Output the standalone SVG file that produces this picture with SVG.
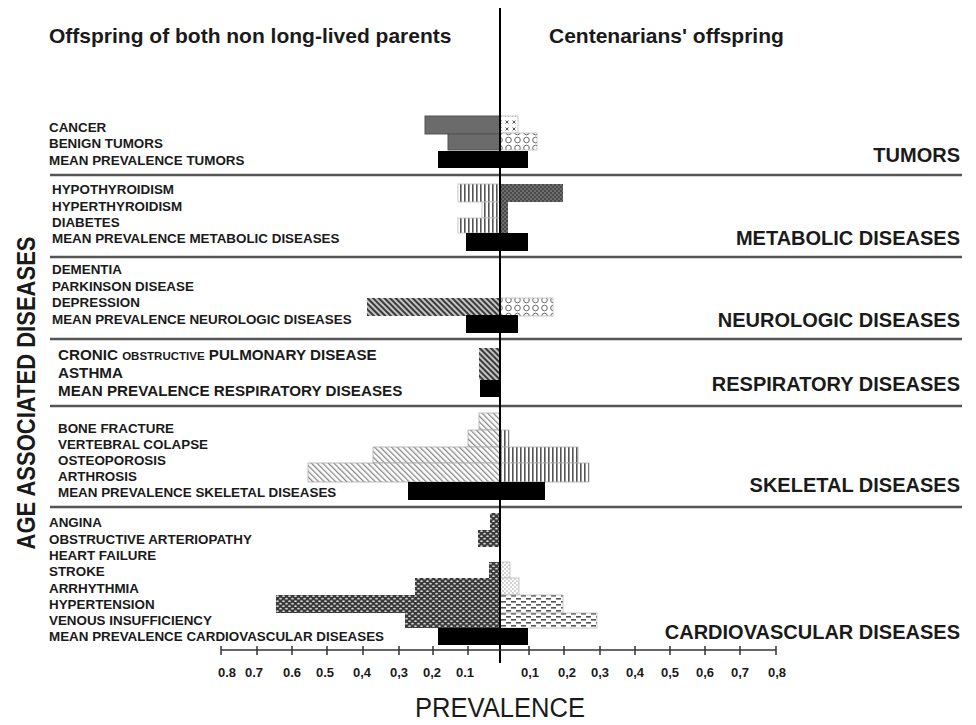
<svg xmlns="http://www.w3.org/2000/svg" width="976" height="725" viewBox="0 0 976 725">
<style>
text{font-family:"Liberation Sans",Arial,sans-serif;fill:#1a1a1a}
.hd{font-size:21px;font-weight:bold}
.lb{font-size:13.4px;font-weight:bold}
.lbb{font-size:15.2px;font-weight:bold}
.cat{font-size:20px;font-weight:bold;text-anchor:end}
.tk{font-size:13px;font-weight:bold;text-anchor:middle}
.sep{stroke:#555;stroke-width:2.5}
.mean{fill:#000}
.gray{fill:#6b6b6b;stroke:#555;stroke-width:1}
.tick{stroke:#333;stroke-width:1.5}
</style>
<defs>
<pattern id="pXdot" width="7" height="7" patternUnits="userSpaceOnUse"><rect width="7" height="7" fill="#fff"/><path d="M1.5 1.5l3 3M4.5 1.5l-3 3" stroke="#555" stroke-width="1"/></pattern>
<pattern id="pCirc" width="9" height="8" patternUnits="userSpaceOnUse"><rect width="9" height="8" fill="#fff"/><circle cx="4.5" cy="4" r="2.8" fill="none" stroke="#666" stroke-width="1"/></pattern>
<pattern id="pVert" width="4" height="4" patternUnits="userSpaceOnUse"><rect width="4" height="4" fill="#fff"/><rect width="1.6" height="4" fill="#555"/></pattern>
<pattern id="pDark" width="4" height="4" patternUnits="userSpaceOnUse"><rect width="4" height="4" fill="#4a4a4a"/><circle cx="1" cy="1" r="0.8" fill="#9a9a9a"/><circle cx="3" cy="3" r="0.8" fill="#9a9a9a"/></pattern>
<pattern id="pDiag" width="4" height="4" patternUnits="userSpaceOnUse" patternTransform="rotate(-45)"><rect width="4" height="4" fill="#c4c4c4"/><rect width="2" height="4" fill="#3a3a3a"/></pattern>
<pattern id="pSkel" width="4" height="4" patternUnits="userSpaceOnUse" patternTransform="rotate(-45)"><rect width="4" height="4" fill="#fff"/><rect width="1.3" height="4" fill="#8a8a8a"/></pattern>
<pattern id="pHoney" width="6" height="5" patternUnits="userSpaceOnUse"><rect width="6" height="5" fill="#3a3a3a"/><ellipse cx="1.5" cy="1.2" rx="1.3" ry="0.9" fill="#d8d8d8"/><ellipse cx="4.5" cy="3.7" rx="1.3" ry="0.9" fill="#d8d8d8"/></pattern>
<pattern id="pDash" width="10" height="6" patternUnits="userSpaceOnUse"><rect width="10" height="6" fill="#fff"/><rect x="1" y="1" width="5" height="1.6" fill="#555"/><rect x="6" y="4" width="5" height="1.6" fill="#555"/><rect x="-4" y="4" width="5" height="1.6" fill="#555"/></pattern>
<pattern id="pLight" width="4" height="4" patternUnits="userSpaceOnUse"><rect width="4" height="4" fill="#fff"/><circle cx="1" cy="1" r="0.7" fill="#888"/><circle cx="3" cy="3" r="0.7" fill="#888"/></pattern>
</defs>
<rect width="976" height="725" fill="#fff"/>

<g id="headers">
<text class="hd" x="49" y="43">Offspring of both non long-lived parents</text>
<text class="hd" x="549" y="43">Centenarians'  offspring</text>
</g>

<g id="yaxis-label">
<text transform="translate(35,393) rotate(-90)" text-anchor="middle" font-size="25" font-weight="bold" textLength="313" lengthAdjust="spacingAndGlyphs">AGE ASSOCIATED DISEASES</text>
</g>

<g id="separators">
<line class="sep" x1="50" y1="175" x2="962" y2="175"/>
<line class="sep" x1="50" y1="257" x2="962" y2="257"/>
<line class="sep" x1="50" y1="339" x2="962" y2="339"/>
<line class="sep" x1="50" y1="406" x2="962" y2="406"/>
<line class="sep" x1="50" y1="507" x2="962" y2="507"/>
</g>

<g id="tumors">
<text class="lb" x="49" y="132">CANCER</text>
<text class="lb" x="49" y="148">BENIGN TUMORS</text>
<text class="lb" x="49" y="165">MEAN PREVALENCE TUMORS</text>
<text class="cat" x="960" y="162">TUMORS</text>
<rect class="gray" x="425" y="116" width="75" height="18"/>
<rect x="500" y="116" width="18" height="17" fill="url(#pXdot)" stroke="#bbb" stroke-width="0.8"/>
<rect class="gray" x="448" y="134" width="52" height="16"/>
<rect x="500" y="133" width="37" height="17" fill="url(#pCirc)" stroke="#bbb" stroke-width="0.8"/>
<rect class="mean" x="438" y="151" width="90" height="17"/>
</g>

<g id="metabolic">
<text class="lb" x="52" y="194">HYPOTHYROIDISM</text>
<text class="lb" x="52" y="211">HYPERTHYROIDISM</text>
<text class="lb" x="52" y="227">DIABETES</text>
<text class="lb" x="52" y="243">MEAN PREVALENCE METABOLIC DISEASES</text>
<text class="cat" x="960" y="245">METABOLIC DISEASES</text>
<rect x="458" y="184" width="42" height="18" fill="url(#pVert)" stroke="#bbb" stroke-width="0.8"/>
<rect x="500" y="184" width="63" height="18" fill="url(#pDark)"/>
<rect x="482" y="202" width="18" height="16" fill="url(#pVert)" stroke="#bbb" stroke-width="0.8"/>
<rect x="500" y="202" width="8" height="16" fill="url(#pDark)"/>
<rect x="458" y="218" width="42" height="15" fill="url(#pVert)" stroke="#bbb" stroke-width="0.8"/>
<rect x="500" y="218" width="8" height="15" fill="url(#pDark)"/>
<rect class="mean" x="466" y="233" width="62" height="18"/>
</g>

<g id="neurologic">
<text class="lb" x="52" y="274">DEMENTIA</text>
<text class="lb" x="52" y="291">PARKINSON DISEASE</text>
<text class="lb" x="52" y="307">DEPRESSION</text>
<text class="lb" x="52" y="324">MEAN PREVALENCE NEUROLOGIC DISEASES</text>
<text class="cat" x="960" y="327">NEUROLOGIC DISEASES</text>
<rect x="367" y="298" width="133" height="18" fill="url(#pDiag)"/>
<rect x="500" y="298" width="53" height="18" fill="url(#pCirc)" stroke="#bbb" stroke-width="0.8"/>
<rect class="mean" x="466" y="315" width="52" height="18"/>
</g>

<g id="respiratory">
<text class="lbb" x="58" y="360">CRONIC <tspan font-size="11.5">OBSTRUCTIVE</tspan> PULMONARY DISEASE</text>
<text class="lbb" x="58" y="378">ASTHMA</text>
<text class="lbb" x="58" y="396">MEAN PREVALENCE RESPIRATORY DISEASES</text>
<text class="cat" x="960" y="391">RESPIRATORY DISEASES</text>
<rect x="479" y="348" width="21" height="16" fill="url(#pDiag)"/>
<rect x="479" y="364" width="21" height="16" fill="url(#pDiag)"/>
<rect class="mean" x="480" y="380" width="20" height="17"/>
</g>

<g id="skeletal">
<text class="lb" x="58" y="433">BONE FRACTURE</text>
<text class="lb" x="58" y="449">VERTEBRAL COLAPSE</text>
<text class="lb" x="58" y="465">OSTEOPOROSIS</text>
<text class="lb" x="58" y="481">ARTHROSIS</text>
<text class="lb" x="58" y="497">MEAN PREVALENCE SKELETAL DISEASES</text>
<text class="cat" x="960" y="492">SKELETAL DISEASES</text>
<rect x="479" y="413" width="21" height="17" fill="url(#pSkel)" stroke="#aaa" stroke-width="0.8"/>
<rect x="468" y="430" width="32" height="17" fill="url(#pSkel)" stroke="#aaa" stroke-width="0.8"/>
<rect x="500" y="430" width="9" height="17" fill="url(#pVert)" stroke="#aaa" stroke-width="0.8"/>
<rect x="373" y="447" width="127" height="16" fill="url(#pSkel)" stroke="#aaa" stroke-width="0.8"/>
<rect x="500" y="447" width="78" height="16" fill="url(#pVert)" stroke="#aaa" stroke-width="0.8"/>
<rect x="308" y="463" width="192" height="19" fill="url(#pSkel)" stroke="#aaa" stroke-width="0.8"/>
<rect x="500" y="463" width="89" height="19" fill="url(#pVert)" stroke="#aaa" stroke-width="0.8"/>
<rect class="mean" x="408" y="482" width="137" height="18"/>
</g>

<g id="cardiovascular">
<text class="lb" x="49" y="527">ANGINA</text>
<text class="lb" x="49" y="544">OBSTRUCTIVE ARTERIOPATHY</text>
<text class="lb" x="49" y="560">HEART FAILURE</text>
<text class="lb" x="49" y="576">STROKE</text>
<text class="lb" x="49" y="593">ARRHYTHMIA</text>
<text class="lb" x="49" y="609">HYPERTENSION</text>
<text class="lb" x="49" y="625">VENOUS INSUFFICIENCY</text>
<text class="lb" x="49" y="641">MEAN PREVALENCE CARDIOVASCULAR DISEASES</text>
<text class="cat" x="960" y="639">CARDIOVASCULAR DISEASES</text>
<rect x="490" y="513" width="10" height="17" fill="url(#pHoney)"/>
<rect x="478" y="530" width="22" height="17" fill="url(#pHoney)"/>
<rect x="489" y="562" width="11" height="16" fill="url(#pHoney)"/>
<rect x="500" y="562" width="10" height="16" fill="url(#pLight)" stroke="#bbb" stroke-width="0.8"/>
<rect x="415" y="578" width="85" height="17" fill="url(#pHoney)"/>
<rect x="500" y="578" width="19" height="17" fill="url(#pLight)" stroke="#bbb" stroke-width="0.8"/>
<rect x="276" y="595" width="224" height="18" fill="url(#pHoney)"/>
<rect x="500" y="595" width="63" height="18" fill="url(#pDash)" stroke="#bbb" stroke-width="0.8"/>
<rect x="405" y="613" width="95" height="15" fill="url(#pHoney)"/>
<rect x="500" y="613" width="97" height="15" fill="url(#pDash)" stroke="#bbb" stroke-width="0.8"/>
<rect class="mean" x="438" y="628" width="90" height="17"/>
</g>

<g id="connectors">
<line x1="500" y1="8" x2="500" y2="663" stroke="#000" stroke-width="2"/>
<line x1="221" y1="650" x2="776" y2="650" stroke="#333" stroke-width="1.5"/>
<g class="tick">
<line x1="221" y1="646" x2="221" y2="655"/><line x1="257" y1="646" x2="257" y2="655"/><line x1="292" y1="646" x2="292" y2="655"/><line x1="327" y1="646" x2="327" y2="655"/><line x1="363" y1="646" x2="363" y2="655"/><line x1="399" y1="646" x2="399" y2="655"/><line x1="433" y1="646" x2="433" y2="655"/><line x1="468" y1="646" x2="468" y2="655"/>
<line x1="529" y1="646" x2="529" y2="655"/><line x1="564" y1="646" x2="564" y2="655"/><line x1="600" y1="646" x2="600" y2="655"/><line x1="635" y1="646" x2="635" y2="655"/><line x1="670" y1="646" x2="670" y2="655"/><line x1="705" y1="646" x2="705" y2="655"/><line x1="740" y1="646" x2="740" y2="655"/><line x1="776" y1="646" x2="776" y2="655"/>
</g>
</g>

<g id="xaxis-labels">
<text class="tk" x="227" y="677">0.8</text><text class="tk" x="254" y="677">0.7</text><text class="tk" x="292" y="677">0.6</text><text class="tk" x="325" y="677">0.5</text><text class="tk" x="362" y="677">0,4</text><text class="tk" x="399" y="677">0,3</text><text class="tk" x="432" y="677">0,2</text><text class="tk" x="465" y="677">0.1</text>
<text class="tk" x="530" y="677">0,1</text><text class="tk" x="567" y="677">0,2</text><text class="tk" x="600" y="677">0,3</text><text class="tk" x="635" y="677">0,4</text><text class="tk" x="670" y="677">0,5</text><text class="tk" x="705" y="677">0,6</text><text class="tk" x="740" y="677">0,7</text><text class="tk" x="777" y="677">0,8</text>
<text x="500" y="717" text-anchor="middle" font-size="27" textLength="170" lengthAdjust="spacingAndGlyphs" fill="#222">PREVALENCE</text>
</g>
</svg>
